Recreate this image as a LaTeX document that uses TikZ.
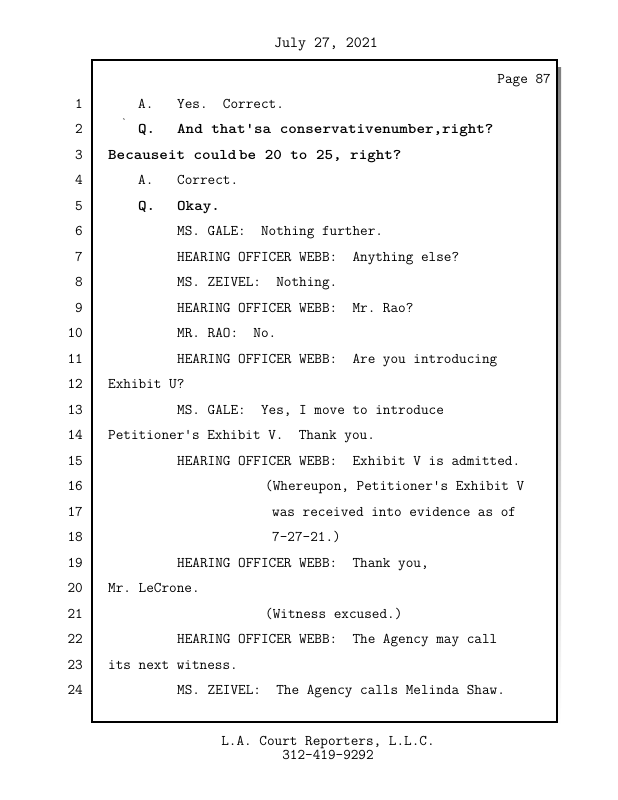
\documentclass[tikz,border=0pt]{standalone}
\usepackage{fontspec}
\usepackage{graphicx}
\usetikzlibrary{positioning}
\tikzset{txt/.style={inner sep=0pt,anchor=base west,font=\ttfamily\frenchspacing\fontsize{14.8}{15}\selectfont}}
\tikzset{btxt/.style={txt,font=\ttfamily\bfseries\frenchspacing\fontsize{14.8}{15}\selectfont}}
\tikzset{num/.style={txt,anchor=base east}}
\tikzset{mid/.style={txt,anchor=base}}
\colorlet{shade}{black!25}
\newcommand{\lnpos}[1]{108+(#1-1)*25.52}
\newcommand{\wide}[1]{\scalebox{1.1}[1]{#1}}

\begin{document}
\begin{tikzpicture}[x=1pt,y=-1pt]
      \useasboundingbox (0,0) rectangle (618,800);
      % frame with shadow
      \fill[shade] (100,68) rectangle (561,726);
      \draw[fill=white,line width=1.4pt] (92,60) rectangle (557,722);

      \node[mid,font=\ttfamily\fontsize{15.5}{16}\selectfont] (date) at (326,47.5) {July 27, 2021};
      \node[num] (page) at (551,83.5) {Page 87};

      \foreach \i in {1,...,24}
        \node[num] (n\i) at (83,{\lnpos{\i}}) {\i};

      \node[txt] (a1) at (138,{\lnpos{1}}) {A.};
      \node[txt] (t1) at (177,{\lnpos{1}}) {Yes.\ \ Correct.};
      \node[inner sep=0pt,font=\ttfamily\fontsize{9}{9}\selectfont] (mark) at (124,122) {`};
      \node[btxt] (q2) at (138,{\lnpos{2}}) {\wide{Q.}};
      \node[btxt] (t2) at (177,{\lnpos{2}}) {\wide{And that'sa conservativenumber,right?}};
      \node[btxt] (t3) at (108,{\lnpos{3}}) {\wide{Becauseit could\,be 20 to 25, right?}};
      \node[txt] (a4) at (138,{\lnpos{4}}) {A.};
      \node[txt] (t4) at (177,{\lnpos{4}}) {Correct.};
      \node[btxt] (q5) at (138,{\lnpos{5}}) {\wide{Q.}};
      \node[btxt] (t5) at (177,{\lnpos{5}}) {\wide{Okay.}};
      \node[txt] (t6) at (177,{\lnpos{6}}) {MS. GALE:\ \ Nothing further.};
      \node[txt] (t7) at (177,{\lnpos{7}}) {HEARING OFFICER WEBB:\ \ Anything else?};
      \node[txt] (t8) at (177,{\lnpos{8}}) {MS. ZEIVEL:\ \ Nothing.};
      \node[txt] (t9) at (177,{\lnpos{9}}) {HEARING OFFICER WEBB:\ \ Mr. Rao?};
      \node[txt] (t10) at (177,{\lnpos{10}}) {MR. RAO:\ \ No.};
      \node[txt] (t11) at (177,{\lnpos{11}}) {HEARING OFFICER WEBB:\ \ Are you introducing};
      \node[txt] (t12) at (108,{\lnpos{12}}) {Exhibit U?};
      \node[txt] (t13) at (177,{\lnpos{13}}) {MS. GALE:\ \ Yes, I move to introduce};
      \node[txt] (t14) at (108,{\lnpos{14}}) {Petitioner's Exhibit V.\ \ Thank you.};
      \node[txt] (t15) at (177,{\lnpos{15}}) {HEARING OFFICER WEBB:\ \ Exhibit V is admitted.};
      \node[txt] (t16) at (265,{\lnpos{16}}) {(Whereupon, Petitioner's Exhibit V};
      \node[txt] (t17) at (272,{\lnpos{17}}) {was received into evidence as of};
      \node[txt] (t18) at (272,{\lnpos{18}}) {7-27-21.)};
      \node[txt] (t19) at (177,{\lnpos{19}}) {HEARING OFFICER WEBB:\ \ Thank you,};
      \node[txt] (t20) at (108,{\lnpos{20}}) {Mr. LeCrone.};
      \node[txt] (t21) at (265,{\lnpos{21}}) {(Witness excused.)};
      \node[txt] (t22) at (177,{\lnpos{22}}) {HEARING OFFICER WEBB:\ \ The Agency may call};
      \node[txt] (t23) at (108,{\lnpos{23}}) {its next witness.};
      \node[txt] (t24) at (177,{\lnpos{24}}) {MS. ZEIVEL:\ \ The Agency calls Melinda Shaw.};

      \node[mid] (firm) at (328,745.5) {L.A. Court Reporters, L.L.C.};
      \node[mid] (phone) at (328,759.5) {312-419-9292};
    \end{tikzpicture}
\end{document}
